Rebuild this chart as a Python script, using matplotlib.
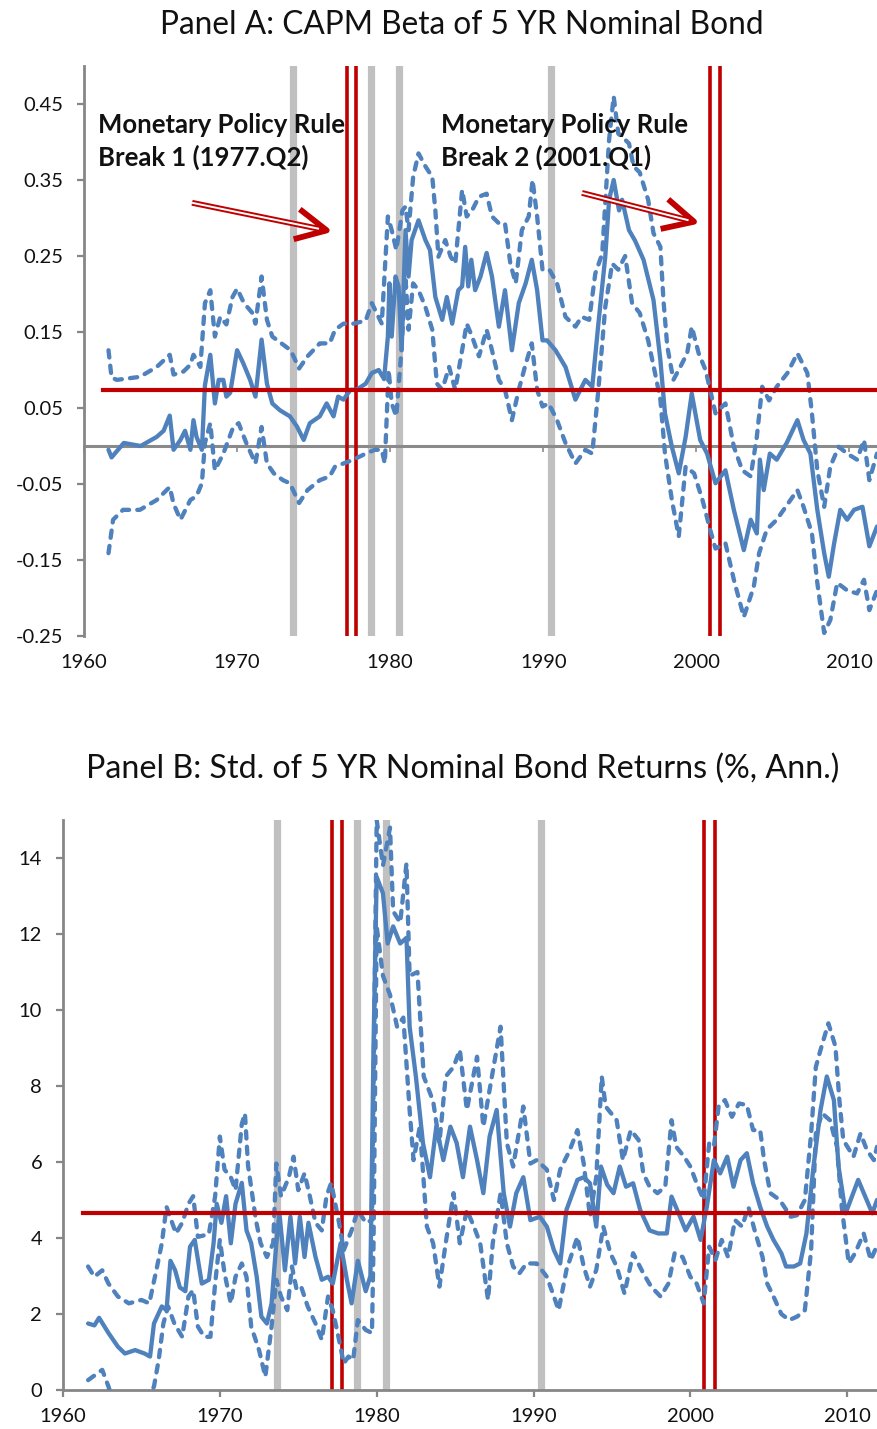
import numpy as np
import matplotlib
matplotlib.use("Agg")
import matplotlib.pyplot as plt

plt.rcParams['font.family'] = ['Lato', 'DejaVu Sans']
plt.rcParams['axes.unicode_minus'] = False

# ---- Panel A: CAPM beta of 5 yr nominal bond, (year, value)
beta_mid = [(1961.6, -0.005), (1961.8, -0.015), (1962.6, 0.004), (1963.7, 0.0), (1964.75, 0.012),
            (1965.2, 0.02), (1965.6, 0.04), (1965.85, -0.005), (1966.3, 0.008), (1966.6, 0.02),
            (1966.95, -0.005), (1967.15, 0.034), (1967.35, 0.012), (1967.7, -0.005), (1967.9, 0.08),
            (1968.25, 0.12), (1968.55, 0.056), (1968.8, 0.087), (1969.1, 0.087), (1969.3, 0.065),
            (1969.55, 0.07), (1970.0, 0.126), (1970.4, 0.109), (1970.85, 0.087), (1971.2, 0.065),
            (1971.6, 0.14), (1971.95, 0.082), (1972.3, 0.056), (1972.8, 0.047), (1973.45, 0.039),
            (1973.9, 0.026), (1974.35, 0.008), (1974.75, 0.03), (1975.4, 0.039), (1975.85, 0.056),
            (1976.3, 0.039), (1976.6, 0.065), (1976.95, 0.061), (1977.4, 0.074), (1977.8, 0.074),
            (1978.4, 0.082), (1978.8, 0.096), (1979.25, 0.1), (1979.6, 0.088), (1979.85, 0.144),
            (1979.95, 0.214), (1980.1, 0.144), (1980.35, 0.223), (1980.55, 0.21), (1980.75, 0.126),
            (1981.0, 0.284), (1981.2, 0.223), (1981.4, 0.271), (1981.85, 0.297), (1982.3, 0.271),
            (1982.6, 0.258), (1982.95, 0.196), (1983.4, 0.166), (1983.7, 0.196), (1984.05, 0.161),
            (1984.45, 0.205), (1984.7, 0.21), (1984.9, 0.262), (1985.1, 0.21), (1985.3, 0.245),
            (1985.55, 0.205), (1985.9, 0.223), (1986.3, 0.254), (1986.65, 0.223), (1987.1, 0.157),
            (1987.5, 0.205), (1987.95, 0.126), (1988.4, 0.188), (1988.85, 0.214), (1989.25, 0.245),
            (1989.6, 0.205), (1989.95, 0.139), (1990.25, 0.139), (1990.8, 0.126), (1991.45, 0.104),
            (1992.1, 0.061), (1992.75, 0.087), (1993.2, 0.078), (1993.6, 0.161), (1994.05, 0.249),
            (1994.3, 0.324), (1994.6, 0.35), (1994.95, 0.31), (1995.15, 0.324), (1995.6, 0.284),
            (1996.0, 0.27), (1996.55, 0.245), (1997.2, 0.192), (1997.65, 0.113), (1997.95, 0.043),
            (1998.4, -0.001), (1998.85, -0.036), (1999.3, 0.012), (1999.7, 0.069), (2000.25, 0.008),
            (2000.7, -0.01), (2001.25, -0.049), (2001.9, -0.032), (2002.45, -0.084), (2003.1, -0.137),
            (2003.55, -0.097), (2003.95, -0.115), (2004.15, -0.018), (2004.4, -0.058), (2004.8, -0.01),
            (2005.25, -0.018), (2005.9, 0.004), (2006.6, 0.034), (2007.0, 0.008), (2007.45, -0.01),
            (2007.9, -0.084), (2008.35, -0.141), (2008.65, -0.172), (2009.0, -0.128), (2009.4, -0.084),
            (2009.85, -0.097), (2010.3, -0.084), (2010.85, -0.08), (2011.3, -0.132), (2011.8, -0.106)]

beta_hi = [(1961.6, 0.126), (1961.8, 0.09), (1962.15, 0.087), (1963.65, 0.091), (1964.75, 0.104),
           (1965.6, 0.12), (1965.85, 0.094), (1966.5, 0.098), (1966.95, 0.107), (1967.15, 0.12),
           (1967.6, 0.104), (1967.9, 0.188), (1968.25, 0.205), (1968.55, 0.144), (1968.9, 0.17),
           (1969.3, 0.16), (1969.7, 0.196), (1970.0, 0.207), (1970.45, 0.188), (1971.0, 0.175),
           (1971.2, 0.161), (1971.6, 0.223), (1971.95, 0.166), (1972.3, 0.144), (1972.9, 0.135),
           (1973.5, 0.126), (1974.05, 0.102), (1974.6, 0.118), (1975.4, 0.135), (1976.05, 0.135),
           (1976.4, 0.153), (1976.95, 0.161), (1977.6, 0.161), (1978.4, 0.165), (1978.8, 0.188),
           (1979.45, 0.161), (1979.85, 0.302), (1980.1, 0.284), (1980.4, 0.258), (1980.8, 0.31),
           (1981.0, 0.315), (1981.2, 0.284), (1981.5, 0.354), (1981.85, 0.385), (1982.3, 0.368),
           (1982.75, 0.354), (1982.95, 0.31), (1983.15, 0.249), (1983.6, 0.271), (1983.95, 0.249),
           (1984.25, 0.24), (1984.7, 0.337), (1985.0, 0.302), (1985.35, 0.31), (1985.8, 0.328),
           (1986.3, 0.332), (1986.65, 0.302), (1987.1, 0.293), (1987.5, 0.293), (1987.85, 0.24),
           (1988.2, 0.214), (1988.6, 0.284), (1989.05, 0.302), (1989.3, 0.35), (1989.6, 0.302),
           (1989.95, 0.232), (1990.4, 0.232), (1990.9, 0.214), (1991.45, 0.17), (1992.1, 0.157),
           (1992.5, 0.17), (1993.0, 0.166), (1993.4, 0.227), (1993.85, 0.253), (1994.3, 0.403),
           (1994.6, 0.46), (1994.9, 0.411), (1995.15, 0.407), (1995.6, 0.398), (1995.9, 0.368),
           (1996.3, 0.36), (1996.85, 0.324), (1997.2, 0.28), (1997.65, 0.262), (1997.85, 0.192),
           (1998.1, 0.131), (1998.5, 0.087), (1998.95, 0.104), (1999.4, 0.122), (1999.7, 0.157),
           (2000.15, 0.122), (2000.6, 0.1), (2000.9, 0.074), (2001.25, 0.043), (2001.9, 0.056),
           (2002.45, -0.001), (2003.0, -0.032), (2003.55, -0.04), (2003.95, 0.012), (2004.3, 0.078),
           (2004.75, 0.06), (2005.25, 0.078), (2005.95, 0.096), (2006.6, 0.122), (2007.25, 0.096),
           (2007.55, 0.043), (2007.9, -0.032), (2008.35, -0.08), (2008.75, -0.027), (2009.3, -0.001),
           (2009.85, -0.01), (2010.5, -0.018), (2010.95, 0.008), (2011.3, -0.045), (2011.8, -0.01)]

beta_lo = [(1961.6, -0.141), (1961.9, -0.097), (1962.55, -0.084), (1963.65, -0.084), (1964.75, -0.071),
           (1965.6, -0.054), (1965.85, -0.076), (1966.3, -0.097), (1966.95, -0.071), (1967.35, -0.066),
           (1967.7, -0.049), (1967.9, 0.004), (1968.25, 0.03), (1968.55, -0.032), (1969.1, -0.01),
           (1969.75, 0.025), (1970.1, 0.03), (1970.6, 0.004), (1971.2, -0.023), (1971.6, 0.025),
           (1971.95, -0.023), (1972.4, -0.036), (1973.0, -0.045), (1973.45, -0.049), (1974.05, -0.075),
           (1974.6, -0.058), (1975.4, -0.045), (1976.05, -0.04), (1976.4, -0.027), (1976.95, -0.023),
           (1977.6, -0.018), (1978.4, -0.01), (1979.0, -0.005), (1979.45, -0.005), (1979.65, -0.023),
           (1979.9, 0.1), (1980.1, 0.056), (1980.4, 0.039), (1980.75, 0.13), (1981.0, 0.223),
           (1981.2, 0.153), (1981.5, 0.214), (1981.85, 0.205), (1982.3, 0.183), (1982.75, 0.153),
           (1983.05, 0.082), (1983.4, 0.074), (1983.85, 0.104), (1984.25, 0.074), (1984.7, 0.126),
           (1985.0, 0.161), (1985.35, 0.144), (1985.8, 0.118), (1986.3, 0.153), (1986.65, 0.126),
           (1987.1, 0.087), (1987.5, 0.074), (1987.95, 0.034), (1988.4, 0.074), (1988.8, 0.104),
           (1989.25, 0.135), (1989.6, 0.074), (1989.95, 0.052), (1990.35, 0.056), (1990.9, 0.034),
           (1991.45, 0.004), (1992.1, -0.023), (1992.75, -0.005), (1993.2, -0.01), (1993.6, 0.074),
           (1994.05, 0.183), (1994.5, 0.24), (1994.9, 0.232), (1995.35, 0.25), (1995.8, 0.188),
           (1996.3, 0.175), (1996.85, 0.139), (1997.3, 0.096), (1997.65, 0.061), (1997.95, -0.01),
           (1998.4, -0.071), (1998.85, -0.119), (1999.3, -0.027), (1999.85, -0.036), (2000.4, -0.071),
           (2000.9, -0.11), (2001.25, -0.135), (2001.9, -0.128), (2002.45, -0.176), (2003.1, -0.225),
           (2003.75, -0.185), (2004.1, -0.141), (2004.6, -0.11), (2005.25, -0.097), (2006.15, -0.071),
           (2006.6, -0.058), (2007.0, -0.08), (2007.55, -0.115), (2007.9, -0.18), (2008.35, -0.246),
           (2008.75, -0.229), (2009.2, -0.18), (2009.85, -0.19), (2010.5, -0.194), (2010.95, -0.176),
           (2011.3, -0.216), (2011.8, -0.19)]

# ---- Panel B: std. of 5 yr nominal bond returns (%, ann.)
vol_mid = [(1961.6, 1.75), (1962.0, 1.7), (1962.3, 1.9), (1962.9, 1.5), (1963.5, 1.14), (1963.95, 0.96),
           (1964.6, 1.05), (1965.2, 0.96), (1965.55, 0.88), (1965.8, 1.75), (1966.3, 2.2), (1966.6, 2.1),
           (1966.85, 3.4), (1967.15, 3.15), (1967.45, 2.7), (1967.8, 2.6), (1968.1, 3.77), (1968.4, 3.95),
           (1968.85, 2.8), (1969.3, 2.9), (1969.6, 3.86), (1969.8, 4.9), (1970.1, 4.4), (1970.4, 5.1),
           (1970.7, 3.86), (1971.0, 4.9), (1971.4, 5.45), (1971.7, 4.2), (1972.0, 3.86), (1972.35, 2.98),
           (1972.65, 1.93), (1973.0, 1.75), (1973.3, 2.28), (1973.6, 3.86), (1973.8, 4.65), (1974.15, 3.15),
           (1974.5, 4.56), (1974.8, 3.33), (1975.1, 4.56), (1975.4, 3.5), (1975.65, 4.4), (1976.1, 3.5),
           (1976.5, 2.9), (1976.9, 2.98), (1977.2, 2.8), (1977.7, 3.86), (1978.1, 2.9), (1978.4, 2.28),
           (1978.8, 3.4), (1979.3, 2.6), (1979.6, 3.0), (1979.8, 9.1), (1980.0, 13.5), (1980.4, 13.07),
           (1980.7, 11.75), (1981.05, 12.2), (1981.5, 11.75), (1981.9, 11.9), (1982.1, 9.56), (1982.5, 8.25),
           (1982.95, 6.5), (1983.4, 5.6), (1983.8, 6.93), (1984.25, 6.05), (1984.7, 6.93), (1985.1, 6.5),
           (1985.5, 5.6), (1985.95, 6.93), (1986.4, 6.05), (1986.8, 5.18), (1987.2, 6.67), (1987.65, 7.37),
           (1988.1, 5.18), (1988.5, 4.3), (1988.9, 5.18), (1989.35, 5.6), (1989.8, 4.47), (1990.4, 4.56),
           (1990.85, 4.3), (1991.3, 3.68), (1991.7, 3.33), (1992.1, 4.74), (1992.8, 5.53), (1993.2, 5.6),
           (1993.6, 5.44), (1994.0, 4.3), (1994.3, 5.88), (1994.7, 5.4), (1995.1, 5.18), (1995.5, 5.88),
           (1995.9, 5.35), (1996.35, 5.44), (1996.8, 4.74), (1997.4, 4.2), (1997.95, 4.12), (1998.5, 4.12),
           (1998.8, 5.09), (1999.25, 4.65), (1999.7, 4.2), (2000.2, 4.56), (2000.65, 3.95), (2001.05, 4.82),
           (2001.5, 6.05), (2001.9, 5.7), (2002.35, 6.14), (2002.75, 5.35), (2003.2, 6.05), (2003.6, 6.23),
           (2004.0, 5.44), (2004.45, 4.82), (2004.9, 4.3), (2005.3, 3.95), (2005.8, 3.6), (2006.1, 3.25),
           (2006.6, 3.25), (2007.0, 3.33), (2007.4, 4.12), (2007.85, 5.88), (2008.3, 7.37), (2008.7, 8.25),
           (2009.15, 7.63), (2009.45, 5.88), (2009.9, 4.65), (2010.3, 5.09), (2010.7, 5.53), (2011.15, 5.09),
           (2011.6, 4.65), (2011.9, 5.0)]

vol_hi = [(1961.6, 3.25), (1962.0, 2.98), (1962.5, 3.15), (1962.9, 2.8), (1963.5, 2.46), (1964.2, 2.28),
          (1965.0, 2.37), (1965.5, 2.28), (1966.0, 3.25), (1966.3, 3.86), (1966.6, 4.82), (1966.9, 4.47),
          (1967.2, 4.12), (1967.6, 4.4), (1968.0, 4.9), (1968.3, 5.1), (1968.6, 4.03), (1969.3, 4.1),
          (1969.7, 5.1), (1970.0, 6.67), (1970.3, 5.8), (1970.7, 5.6), (1971.0, 5.26), (1971.4, 7.0),
          (1971.6, 7.28), (1971.8, 5.9), (1972.3, 4.47), (1972.6, 3.86), (1973.0, 3.5), (1973.4, 3.86),
          (1973.6, 5.96), (1973.9, 5.1), (1974.4, 5.6), (1974.7, 6.14), (1975.0, 5.26), (1975.4, 5.7),
          (1975.7, 5.17), (1976.1, 4.4), (1976.5, 4.2), (1976.8, 5.1), (1977.1, 5.45), (1977.6, 4.4),
          (1977.9, 3.68), (1978.4, 4.2), (1978.8, 4.74), (1979.3, 4.4), (1979.7, 4.47), (1980.0, 15.0),
          (1980.4, 13.8), (1980.85, 14.8), (1981.05, 12.6), (1981.5, 12.3), (1981.9, 13.86), (1982.1, 10.9),
          (1982.6, 11.0), (1983.0, 8.25), (1983.6, 7.6), (1984.0, 6.5), (1984.4, 8.25), (1984.9, 8.5),
          (1985.3, 8.95), (1985.75, 7.37), (1986.4, 8.77), (1986.8, 6.93), (1987.2, 7.9), (1987.9, 9.56),
          (1988.3, 6.5), (1988.7, 5.88), (1989.35, 7.46), (1989.8, 5.96), (1990.2, 6.05), (1990.85, 5.8),
          (1991.3, 5.0), (1991.7, 5.8), (1992.3, 6.3), (1992.8, 6.84), (1993.2, 5.96), (1993.6, 4.56),
          (1994.0, 5.6), (1994.35, 8.25), (1994.6, 7.46), (1995.3, 7.1), (1995.7, 6.05), (1996.2, 6.84),
          (1996.7, 6.58), (1997.0, 5.7), (1997.4, 5.35), (1997.9, 5.18), (1998.4, 5.35), (1998.8, 7.1),
          (1999.1, 6.4), (1999.6, 6.14), (2000.0, 5.88), (2000.4, 5.44), (2000.85, 5.0), (2001.2, 6.49),
          (2001.5, 6.4), (2001.8, 7.46), (2002.2, 7.63), (2002.65, 7.19), (2003.1, 7.54), (2003.6, 7.5),
          (2004.0, 6.84), (2004.45, 6.84), (2004.7, 6.05), (2005.1, 5.18), (2005.7, 5.0), (2006.4, 4.56),
          (2006.8, 4.6), (2007.3, 5.0), (2007.7, 6.75), (2008.0, 8.5), (2008.3, 8.95), (2008.8, 9.65),
          (2009.25, 9.04), (2009.5, 7.63), (2009.75, 6.58), (2010.4, 6.14), (2010.85, 6.75), (2011.25, 6.32),
          (2011.7, 6.05), (2011.9, 6.4)]

vol_lo = [(1961.6, 0.26), (1962.5, 0.53), (1962.9, 0.09), (1963.2, -0.3), (1964.0, -0.6), (1965.0, -0.5),
          (1965.8, 0.09), (1966.1, 0.79), (1966.4, 1.75), (1966.7, 2.2), (1967.1, 1.75), (1967.6, 1.4),
          (1968.0, 2.46), (1968.3, 2.63), (1968.6, 1.67), (1969.0, 1.4), (1969.4, 1.4), (1969.7, 2.8),
          (1970.0, 3.95), (1970.3, 3.07), (1970.7, 2.28), (1971.0, 2.98), (1971.4, 3.33), (1971.7, 2.98),
          (1972.0, 1.67), (1972.5, 1.05), (1972.9, 0.35), (1973.3, 1.67), (1973.6, 2.9), (1973.9, 2.46),
          (1974.3, 2.1), (1974.6, 3.25), (1974.9, 2.63), (1975.2, 2.7), (1975.6, 2.2), (1976.1, 1.75),
          (1976.5, 1.32), (1976.9, 2.46), (1977.2, 2.1), (1977.6, 1.32), (1977.9, 0.7), (1978.2, 0.88),
          (1978.5, 0.79), (1978.8, 1.84), (1979.3, 1.58), (1979.7, 1.5), (1979.8, 3.86), (1980.0, 12.2),
          (1980.4, 10.9), (1980.85, 10.4), (1981.3, 9.56), (1981.7, 9.8), (1982.1, 7.37), (1982.35, 6.05),
          (1982.75, 6.93), (1983.2, 4.3), (1983.6, 3.86), (1984.0, 2.72), (1984.4, 3.86), (1984.9, 5.18),
          (1985.3, 3.86), (1985.75, 4.74), (1986.2, 4.3), (1986.6, 3.86), (1987.1, 2.37), (1987.4, 3.86),
          (1987.9, 5.18), (1988.3, 3.86), (1988.7, 3.25), (1989.1, 3.07), (1989.55, 3.33), (1990.2, 3.33),
          (1990.85, 2.98), (1991.3, 2.46), (1991.6, 2.1), (1992.1, 3.16), (1992.8, 4.03), (1993.2, 3.25),
          (1993.6, 2.72), (1994.0, 3.16), (1994.45, 4.3), (1994.9, 3.6), (1995.3, 3.25), (1995.8, 2.54),
          (1996.35, 3.6), (1997.0, 3.07), (1997.5, 2.72), (1998.1, 2.46), (1998.6, 2.8), (1999.0, 3.6),
          (1999.5, 3.5), (2000.0, 2.98), (2000.4, 2.8), (2000.85, 2.28), (2001.2, 3.77), (2001.6, 3.42),
          (2002.0, 3.95), (2002.4, 3.5), (2002.85, 4.47), (2003.3, 4.3), (2003.7, 4.82), (2004.1, 4.2),
          (2004.6, 3.5), (2004.9, 2.8), (2005.3, 2.46), (2005.8, 2.0), (2006.3, 1.84), (2006.8, 1.93),
          (2007.3, 2.1), (2007.7, 3.68), (2008.0, 6.75), (2008.4, 7.28), (2008.9, 7.1), (2009.35, 6.4),
          (2009.65, 4.82), (2010.1, 3.33), (2010.5, 3.6), (2011.05, 4.12), (2011.5, 3.42), (2011.9, 3.8)]

# sample means (red horizontal lines), start date of the sample
beta_mean = 0.074
vol_mean = 4.65
sample_start = 1961.25
# monetary policy rule breaks (double red lines) and grey event markers
break_lines = [1977.15, 1977.8, 2000.9, 2001.55]
grey_dates = [1973.63, 1978.72, 1980.6, 1990.5]
year_ticks = [1960, 1970, 1980, 1990, 2000, 2010]

BLUE = '#4F81BD'
RED = '#C00000'
GREY_BAR = '#C0C0C0'
AXIS_GREY = '#868686'
TXT = '#111111'
FS_TICK = 14.5

fig = plt.figure(figsize=(8.77, 14.29), dpi=100)


def draw_panel(ax, mid, hi, lo, mean, xmax, ylim):
    for d in grey_dates:
        ax.axvline(d, color=GREY_BAR, lw=5.2, zorder=1)
    for d in break_lines:
        ax.axvline(d, color=RED, lw=2.6, zorder=2)
    for s in (hi, lo):
        t, v = np.array(s).T
        ax.plot(t, v, color=BLUE, lw=3.1, dashes=(1.7, 1.9), dash_capstyle='round', zorder=3)
    t, v = np.array(mid).T
    ax.plot(t, v, color=BLUE, lw=3.1, solid_capstyle='round', solid_joinstyle='round', zorder=4)
    ax.plot([sample_start, xmax + 1], [mean, mean], color=RED, lw=3, zorder=5)
    ax.set_xlim(1960, xmax)
    ax.set_ylim(*ylim)
    ax.set_xticks(year_ticks)
    for sp in ('top', 'right'):
        ax.spines[sp].set_visible(False)
    ax.spines['left'].set_color(AXIS_GREY)
    ax.spines['left'].set_linewidth(2)
    ax.tick_params(axis='y', colors=AXIS_GREY, labelcolor=TXT, labelsize=FS_TICK, length=5, width=1.6, pad=10)
    ax.tick_params(axis='x', labelcolor=TXT, labelsize=FS_TICK)


# Panel A
ax1 = fig.add_axes([84 / 877, 1 - 636 / 1429, 1 - 84 / 877, 570 / 1429])
ax1.axhline(0, color='#8a8a8a', lw=2.2, zorder=2)
draw_panel(ax1, beta_mid, beta_hi, beta_lo, beta_mean, 2011.8, (-0.25, 0.5))
ax1.set_yticks(np.arange(-0.25, 0.46, 0.1))
ax1.yaxis.set_major_formatter(matplotlib.ticker.FormatStrFormatter('%.2f'))
ax1.spines['bottom'].set_visible(False)
ax1.tick_params(axis='x', length=0, pad=13)
sec = ax1.secondary_xaxis(1 / 3)
sec.set_xticks(year_ticks)
sec.spines['bottom'].set_visible(False)
sec.tick_params(axis='x', labelbottom=False, length=4, width=1.2, colors='#8a8a8a')

ax1.text(1960.9, 0.438, 'Monetary Policy Rule\nBreak 1 (1977.Q2)', fontsize=18.5, fontweight='bold',
         va='top', ha='left', color=TXT, linespacing=1.35, zorder=6)
ax1.text(1983.35, 0.438, 'Monetary Policy Rule\nBreak 2 (2001.Q1)', fontsize=18.5, fontweight='bold',
         va='top', ha='left', color=TXT, linespacing=1.35, zorder=6)

arrows = [((1967.06, 0.32), (1976.27, 0.282)), ((1992.53, 0.333), (2000.26, 0.293))]
for tail, head in arrows:
    ax1.annotate('', xy=head, xytext=tail,
                 arrowprops=dict(arrowstyle='->,head_length=1.1,head_width=0.55', color=RED, lw=4.2,
                                 shrinkA=0, shrinkB=0, mutation_scale=20, capstyle='butt'), zorder=6)
    frac = 0.9
    ax1.plot([tail[0], tail[0] + frac * (head[0] - tail[0])],
             [tail[1], tail[1] + frac * (head[1] - tail[1])], color='white', lw=1.4,
             solid_capstyle='butt', zorder=7)

fig.text(0.527, 1 - 34 / 1429, 'Panel A: CAPM Beta of 5 YR Nominal Bond', ha='center', va='baseline',
         fontsize=22.8, color=TXT)

# Panel B
ax2 = fig.add_axes([63 / 877, 1 - 1390 / 1429, 1 - 63 / 877, 570 / 1429])
draw_panel(ax2, vol_mid, vol_hi, vol_lo, vol_mean, 2011.9, (0, 15))
ax2.set_yticks(np.arange(0, 15, 2))
ax2.spines['bottom'].set_color(AXIS_GREY)
ax2.spines['bottom'].set_linewidth(2)
ax2.tick_params(axis='x', colors=AXIS_GREY, labelcolor=TXT, length=5, width=1.6, pad=8)

fig.text(0.528, 1 - 778 / 1429, 'Panel B: Std. of 5 YR Nominal Bond Returns (%, Ann.)', ha='center',
         va='baseline', fontsize=23.2, color=TXT)

fig.savefig('out.png', dpi=100)
